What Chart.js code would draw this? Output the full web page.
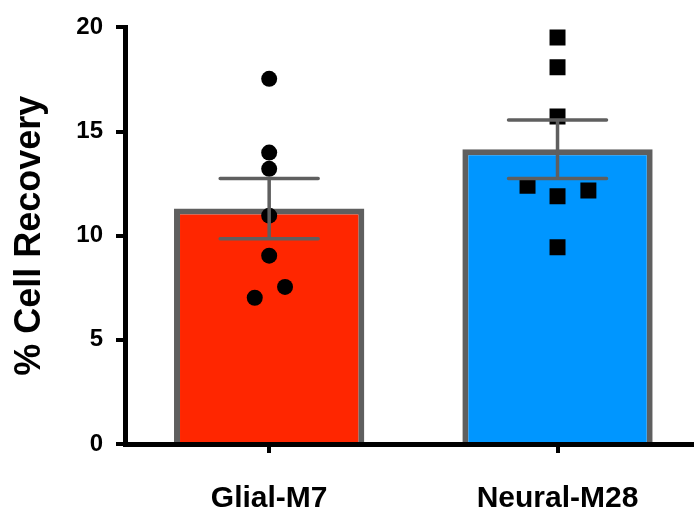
<!DOCTYPE html>
<html>
<head>
<meta charset="utf-8">
<script src="https://cdn.jsdelivr.net/npm/chart.js@4"></script>
<style>
  html, body { margin: 0; padding: 0; background: #fff; overflow: hidden; }
  #wrap { width: 713px; height: 509px; }
</style>
</head>
<body>
<div id="wrap"><canvas id="recoveryChart" width="713" height="509"></canvas></div>
<script>
// data
const categories = ['Glial-M7', 'Neural-M28'];
const barMeans = [11.3, 14.15];
const barSem = [1.45, 1.40];
const glialPoints = [17.53, 13.99, 13.21, 10.96, 9.04, 7.54, 7.02];
const glialJitter = [0, 0, 0, 0, 0, 0.055, -0.05];
const neuralPoints = [19.52, 18.09, 15.72, 12.40, 11.89, 12.17, 9.45];
const neuralJitter = [0, 0, 0, -0.104, 0, 0.107, 0];
const yTicks = [0, 5, 10, 15, 20];

const fontFamily = '"Liberation Sans", Arial, Helvetica, sans-serif';

// mean +/- SEM whiskers, drawn on top of the dots
const errorBars = {
    id: 'errorBars',
    afterDatasetsDraw(chart) {
        const ctx = chart.ctx;
        const xs = chart.scales.x;
        const ys = chart.scales.y;
        ctx.save();
        ctx.strokeStyle = '#5f5f5f';
        ctx.lineWidth = 3.5;
        ctx.lineCap = 'round';
        barMeans.forEach(function (m, i) {
            const x = xs.getPixelForValue(i);
            const top = ys.getPixelForValue(m + barSem[i]);
            const bot = ys.getPixelForValue(m - barSem[i]);
            ctx.beginPath();
            ctx.moveTo(x, top);
            ctx.lineTo(x, bot);
            ctx.moveTo(x - 49, top);
            ctx.lineTo(x + 49, top);
            ctx.moveTo(x - 49, bot);
            ctx.lineTo(x + 49, bot);
            ctx.stroke();
        });
        ctx.restore();
    }
};

const ctx = document.getElementById('recoveryChart').getContext('2d');
new Chart(ctx, {
    type: 'bar',
    data: {
        labels: categories,
        datasets: [{
            type: 'bar',
            data: barMeans,
            backgroundColor: ['#ff2600', '#0096ff'],
            borderColor: '#5f5f5f',
            borderWidth: 6,
            grouped: false,
            barPercentage: 0.66,
            categoryPercentage: 1,
            order: 2
        }, {
            type: 'scatter',
            xAxisID: 'xj',
            data: glialPoints.map(function (v, k) { return { x: 0 + glialJitter[k], y: v }; }),
            pointStyle: 'circle',
            pointRadius: 8,
            backgroundColor: '#000',
            borderWidth: 0,
            showLine: false,
            order: 1
        }, {
            type: 'scatter',
            xAxisID: 'xj',
            data: neuralPoints.map(function (v, k) { return { x: 1 + neuralJitter[k], y: v }; }),
            pointStyle: 'rect',
            pointRadius: 11.3,
            backgroundColor: '#000',
            borderWidth: 0,
            showLine: false,
            order: 1
        }]
    },
    options: {
        responsive: false,
        animation: false,
        layout: { padding: { top: 23, left: 0, right: 0, bottom: 0 } },
        plugins: { legend: { display: false }, tooltip: { enabled: false } },
        scales: {
            x: {
                type: 'category',
                offset: true,
                grid: { drawOnChartArea: false, offset: false, color: '#000', lineWidth: 4, tickLength: 9 },
                border: { color: '#000', width: 5 },
                ticks: { color: '#000', padding: 28, font: { family: fontFamily, size: 30, weight: 'bold' } },
                afterFit: function (s) { s.height = 65; }
            },
            xj: {
                type: 'linear',
                display: false,
                offset: false,
                bounds: 'ticks',
                min: -0.5,
                max: 1.5
            },
            y: {
                min: 0,
                max: 20,
                afterBuildTicks: function (s) { s.ticks = yTicks.map(function (v) { return { value: v }; }); },
                grid: { drawOnChartArea: false, color: '#000', lineWidth: 4, tickLength: 9 },
                border: { color: '#000', width: 5 },
                ticks: { color: '#000', padding: 13, font: { family: fontFamily, size: 24, weight: 'bold' } },
                title: {
                    display: true,
                    text: '% Cell Recovery',
                    color: '#000',
                    padding: { top: 8, bottom: 0 },
                    font: { family: fontFamily, size: 36, weight: 'bold' }
                },
                afterFit: function (s) { s.width = 125; }
            }
        }
    },
    plugins: [errorBars]
});
</script>
</body>
</html>
